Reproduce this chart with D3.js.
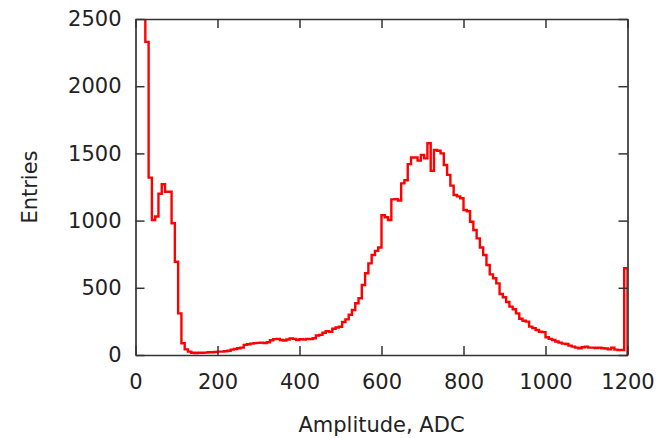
<!DOCTYPE html>
<html>
<head>
<meta charset="utf-8">
<script src="https://cdn.jsdelivr.net/npm/d3@7"></script>
<style>
  body { margin: 0; background: #fff; }
  svg { display: block; }
</style>
</head>
<body>
<div id="chart"></div>
<script>
// histogram: 8 ADC per bin, 0..1200
const binWidth = 8;
const counts = [
  6000, 4500, 3000, 2330, 1320, 1005, 1030, 1200, 1270, 1215,
  1215, 980, 694, 310, 87, 42, 25, 17, 15, 17,
  17, 18, 20, 20, 22, 25, 25, 28, 32, 40,
  45, 50, 55, 75, 80, 85, 88, 90, 92, 88,
  95, 110, 118, 120, 112, 108, 115, 124, 120, 112,
  118, 115, 120, 118, 125, 145, 150, 165, 178, 172,
  195, 205, 210, 245, 265, 300, 335, 385, 422, 521,
  608, 682, 744, 775, 800, 1040, 1025, 1004, 1158, 1160,
  1150, 1277, 1300, 1420, 1470, 1470, 1446, 1488, 1463, 1575,
  1370, 1525, 1520, 1500, 1414, 1340, 1260, 1190, 1180, 1166,
  1079, 1070, 992, 930, 868, 800, 744, 670, 600, 571,
  533, 454, 430, 394, 360, 340, 310, 270, 255, 248,
  211, 200, 186, 173, 170, 132, 120, 112, 100, 92,
  85, 82, 70, 62, 55, 50, 58, 62, 55, 55,
  52, 55, 50, 48, 42, 55, 40, 37, 37, 645
];
const xTicks = [0, 200, 400, 600, 800, 1000, 1200];
const yTicks = [0, 500, 1000, 1500, 2000, 2500];
const xLabel = "Amplitude, ADC";
const yLabel = "Entries";

const width = 660;
const height = 438;
const plotLeft = 135.5, plotRight = 627.5, plotTop = 19, plotBottom = 355;
const font = "DejaVu Sans, sans-serif";
const fontSize = "21px";

const svg = d3
  .select("#chart")
  .append("svg")
  .attr("width", width)
  .attr("height", height);

const x = d3.scaleLinear().domain([0, 1200]).range([plotLeft, plotRight]);
const y = d3.scaleLinear().domain([0, 2500]).range([plotBottom, plotTop]);

svg
  .append("clipPath")
  .attr("id", "plot-clip")
  .append("rect")
  .attr("x", plotLeft)
  .attr("y", plotTop)
  .attr("width", plotRight - plotLeft)
  .attr("height", plotBottom - plotTop);

// step points: left edge of every bin, then close at the right end
const points = counts.map((c, i) => [i * binWidth, c]);
points.push([counts.length * binWidth, counts[counts.length - 1]]);
points.push([counts.length * binWidth, 0]);

const line = d3
  .line()
  .x((d) => x(d[0]))
  .y((d) => y(d[1]))
  .curve(d3.curveStepAfter);

svg
  .append("path")
  .datum(points)
  .attr("clip-path", "url(#plot-clip)")
  .attr("d", line)
  .attr("fill", "none")
  .attr("stroke", "#ff0000")
  .attr("stroke-width", 2.4)
  .attr("stroke-linejoin", "miter");

// axes with inward ticks on all four sides
const tick = 9;
const fmt = d3.format("d");
const gx = svg
  .append("g")
  .attr("transform", `translate(0,${plotBottom})`)
  .call(d3.axisBottom(x).tickValues(xTicks).tickFormat(fmt).tickSizeInner(-tick).tickSizeOuter(0).tickPadding(19));
const gy = svg
  .append("g")
  .attr("transform", `translate(${plotLeft},0)`)
  .call(d3.axisLeft(y).tickValues(yTicks).tickFormat(fmt).tickSizeInner(-tick).tickSizeOuter(0).tickPadding(14));
const gt = svg
  .append("g")
  .attr("transform", `translate(0,${plotTop})`)
  .call(d3.axisTop(x).tickValues(xTicks).tickSizeInner(-tick).tickSizeOuter(0).tickFormat(""));
const gr = svg
  .append("g")
  .attr("transform", `translate(${plotRight},0)`)
  .call(d3.axisRight(y).tickValues(yTicks).tickSizeInner(-tick).tickSizeOuter(0).tickFormat(""));

[gx, gy, gt, gr].forEach((g) => {
  g.selectAll(".domain").attr("stroke", "#333").attr("stroke-width", 1.7);
  g.selectAll(".tick line").attr("stroke", "#333").attr("stroke-width", 1.5);
  g.selectAll(".tick text")
    .attr("fill", "#222")
    .style("font-family", font)
    .style("font-size", fontSize);
});

svg
  .append("text")
  .attr("x", (plotLeft + plotRight) / 2)
  .attr("y", 432)
  .attr("text-anchor", "middle")
  .attr("fill", "#222")
  .style("font-family", font)
  .style("font-size", fontSize)
  .text(xLabel);

svg
  .append("text")
  .attr("transform", `translate(37,${(plotTop + plotBottom) / 2}) rotate(-90)`)
  .attr("text-anchor", "middle")
  .attr("fill", "#222")
  .style("font-family", font)
  .style("font-size", fontSize)
  .text(yLabel);
</script>
</body>
</html>
